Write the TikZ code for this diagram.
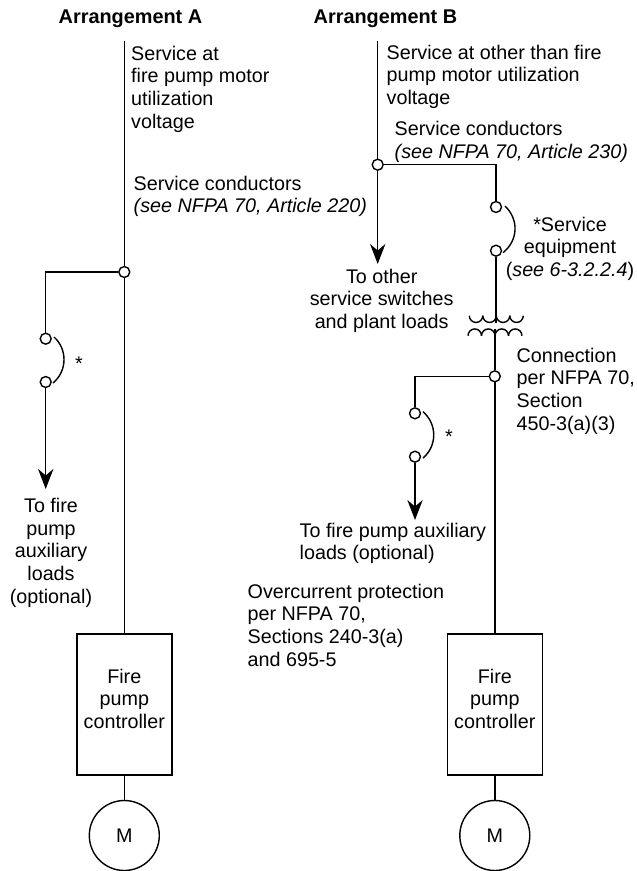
\documentclass[tikz,border=0pt]{standalone}
\usepackage{fontspec}
\setmainfont{Liberation Sans}
\usetikzlibrary{arrows.meta}
\tikzset{
  lbl/.style={inner sep=0pt, align=left, anchor=north west, font=\fontsize{14.8}{17}\selectfont},
  lblc/.style={lbl, align=center, anchor=north},
  heading/.style={inner sep=0pt, anchor=base west, font=\fontsize{14.9}{17}\selectfont\bfseries},
  dot/.style={circle, draw, fill=white, inner sep=0pt, minimum size=8.2pt},
  ctrl/.style={rectangle, draw, inner sep=0pt, minimum width=71.25pt, minimum height=105.75pt, align=center, font=\fontsize{14.8}{17}\selectfont},
  motor/.style={circle, draw, inner sep=0pt, minimum size=52.5pt, font=\fontsize{14.8}{17}\selectfont},
  feed/.style={-{Stealth[length=15pt,width=11.5pt]}}
}
\begin{document}
\begin{tikzpicture}[x=0.75pt,y=-0.75pt,line width=1.05pt]
\useasboundingbox (0,0) rectangle (636,871);
% Titles
\node[heading] (titleA) at (58,23) {Arrangement A};
\node[heading] (titleB) at (313,23) {Arrangement B};

% Arrangement A
\coordinate (topA) at (124.3,41);
\node[ctrl] (ctrlA) at (124.3,704.5) {Fire\\pump\\controller\\[-8.5pt]\mbox{}};
\node[motor] (motorA) at (124.3,835.5) {M};
\node[dot] (tapA) at (124.3,272) {};
\coordinate (cornerA) at (45.7,272);
\node[dot] (swA1) at (45.7,338.7) {};
\node[dot] (swA2) at (45.7,382) {};
\coordinate (endA) at (45.7,489);
\draw (topA) -- (tapA);
\draw (tapA) -- (ctrlA);
\draw (ctrlA) -- (motorA);
\draw (tapA) -- (cornerA) -- (swA1);
\draw (54,337) .. controls (67.5,349) and (67.5,371) .. (53,383);
\draw[feed] (swA2) -- (endA);
\node[lbl] (svcA) at (130.5,45) {Service at\\fire pump motor\\utilization\\voltage};
\node[lbl] (condA) at (133,175) {Service conductors\\\textit{(see NFPA 70, Article 220)}};
\node[inner sep=0pt, font=\fontsize{14.8}{17}\selectfont] (starA) at (79,364) {*};
\node[lblc] (loadsA) at (51,497.5) {To fire\\pump\\auxiliary\\loads\\(optional)};

% Arrangement B
\coordinate (topB) at (377.7,41);
\node[dot] (tapB) at (377.7,164.7) {};
\node[dot] (swB1) at (496,207) {};
\node[dot] (swB2) at (496,250.7) {};
\coordinate (cornerB) at (496,164.7);
\coordinate (endB) at (377.7,264);
\draw (topB) -- (tapB);
\draw[feed] (tapB) -- (endB);
\draw (tapB) -- (cornerB) -- (swB1);
\draw (505,206) .. controls (518.7,219) and (518.7,240) .. (503,252.7);
% transformer
\coordinate (priB) at (496,322.5);
\coordinate (secB) at (494.8,329);
\draw (swB2) -- (priB);
\foreach \i in {0,1,2,3}{
  \draw (469.3+\i*13.5,315.7) arc[start angle=180,end angle=360,radius=5.06pt];
  \draw (468+\i*13.5,335.7) arc[start angle=180,end angle=0,radius=5.06pt];
}
\node[ctrl] (ctrlB) at (494.8,704.5) {Fire\\pump\\controller\\[-8.5pt]\mbox{}};
\node[motor] (motorB) at (494.8,835.5) {M};
\node[dot] (tapC) at (494.8,376.3) {};
\coordinate (cornerC) at (415,376.3);
\node[dot] (swC1) at (415,413.3) {};
\node[dot] (swC2) at (415,456.7) {};
\coordinate (endC) at (415,520);
\draw (secB) -- (tapC);
\draw (tapC) -- (ctrlB);
\draw (ctrlB) -- (motorB);
\draw (tapC) -- (cornerC) -- (swC1);
\draw (423,411.7) .. controls (437.3,424) and (437.3,446) .. (423,458);
\draw[feed] (swC2) -- (endC);
\node[lbl] (svcB) at (386,44) {Service at other than fire\\pump motor utilization\\voltage};
\node[lbl] (condB) at (394,120.5) {Service conductors\\\textit{(see NFPA 70, Article 230)}};
\node[lblc] (equipB) at (570,216) {*Service\\equipment\\(\textit{see 6-3.2.2.4})};
\node[lblc] (otherB) at (381.7,268) {To other\\service switches\\and plant loads};
\node[lbl] (connB) at (516,347) {Connection\\per NFPA 70,\\Section\\450-3(a)(3)};
\node[inner sep=0pt, font=\fontsize{14.8}{17}\selectfont] (starC) at (449,437) {*};
\node[lbl] (loadsC) at (299,522) {To fire pump auxiliary\\loads (optional)};
\node[lbl] (protB) at (247,583) {Overcurrent protection\\per NFPA 70,\\Sections 240-3(a)\\and 695-5};
\end{tikzpicture}
\end{document}
